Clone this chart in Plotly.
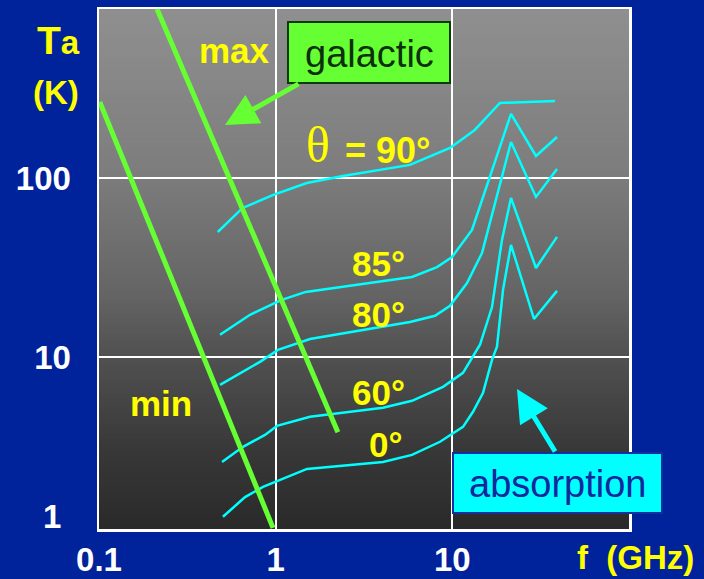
import plotly.graph_objects as go
import numpy as np

# ---------------- data ----------------
x_tick_vals = [0.1, 1, 10]
x_tick_text = ["0.1", "1", "10"]
y_tick_vals = [10, 100]
y_tick_text = ["10", "100"]
y_bottom_label = "1"

# galactic noise limits (GHz, K)
gal_max_f = [0.213, 2.25]
gal_max_T = [879, 3.8]
gal_min_f = [0.101, 0.966]
gal_min_T = [266, 1.11]

# antenna temperature vs elevation angle
f_90 = [0.47, 0.65, 0.97, 1.50, 2.4, 5.76, 9.7, 13.4, 18.6, 27.5, 38.1]
T_90 = [49.9, 68.0, 80.4, 93.8, 102.6, 118.3, 147.2, 185.5, 262.4, 265.9, 269.3]

f_85 = [0.484, 0.716, 1.072, 1.48, 5.91, 8.19, 9.96, 12.92, 21.48, 29.75, 39.13]
T_85 = [13.3, 17.2, 20.8, 23.1, 28.0, 31.8, 36.2, 51.3, 227.9, 132.7, 169.5]

f_80 = [0.484, 0.815, 1.031, 1.564, 5.76, 7.98, 9.70, 12.11, 14.72, 21.48, 29.75, 39.13]
T_80 = [6.98, 9.39, 10.95, 12.6, 15.7, 17.0, 19.3, 25.9, 38.1, 158.9, 78.4, 112.3]

f_60 = [0.497, 0.653, 0.870, 1.017, 1.564, 4.05, 5.91, 8.86, 11.49, 14.34, 16.77, 19.10, 21.48, 29.75, 39.13]
T_60 = [2.59, 3.15, 3.67, 4.12, 4.63, 5.20, 5.69, 6.81, 8.15, 11.7, 19.0, 45.1, 77.4, 31.4, 46.9]

f_0 = [0.503, 0.671, 0.848, 1.058, 1.504, 4.05, 5.91, 8.52, 11.49, 13.09, 14.92, 16.77, 17.89, 19.36, 21.48, 29.0, 39.13]
T_0 = [1.28, 1.65, 1.88, 2.06, 2.37, 2.59, 2.84, 3.36, 4.07, 4.94, 6.30, 9.63, 11.4, 23.7, 42.3, 16.3, 23.4]

# ---------------- layout helpers ----------------
W, H = 704, 579
L, R, T, B = 99, 629, 9, 529


def px(x):
    return (x - L) / (R - L)


def py(y):
    return (B - y) / (B - T)


BLUE = "#00229a"
GREEN = "#66ff33"
CYAN = "#00ffff"
YELLOW = "#ffff00"
FONT = "Liberation Sans, Arial, sans-serif"

fig = go.Figure()

for f, Tv in [(f_90, T_90), (f_85, T_85), (f_80, T_80), (f_60, T_60), (f_0, T_0)]:
    fig.add_trace(go.Scatter(x=f, y=Tv, mode="lines",
                             line=dict(color=CYAN, width=2.5), hoverinfo="skip"))

for f, Tv in [(gal_max_f, gal_max_T), (gal_min_f, gal_min_T)]:
    fig.add_trace(go.Scatter(x=f, y=Tv, mode="lines",
                             line=dict(color=GREEN, width=5), hoverinfo="skip"))

# gradient background of plot area
stops = [(0.0, 143), (0.3, 126), (0.55, 100), (0.66, 82), (0.85, 56), (1.0, 42)]
shapes = []
N = 104
for i in range(N):
    t = (i + 0.5) / N
    g = int(round(np.interp(t, [s[0] for s in stops], [s[1] for s in stops])))
    shapes.append(dict(type="rect", xref="paper", yref="paper",
                       x0=0, x1=1, y0=1 - (i + 1) / N, y1=1 - i / N + 0.0005,
                       fillcolor=f"rgb({g},{g},{g})", line=dict(width=0), layer="below"))

# galactic box
shapes.append(dict(type="rect", xref="paper", yref="paper",
                   x0=px(288), x1=px(450), y0=py(83), y1=py(22),
                   fillcolor=GREEN, line=dict(color="#0b3a0b", width=2), layer="above"))
# absorption box
shapes.append(dict(type="rect", xref="paper", yref="paper",
                   x0=px(453), x1=px(662), y0=py(513), y1=py(453),
                   fillcolor=CYAN, line=dict(color="#1030a0", width=2), layer="above"))

ann = []


def label(text, x, y, size=35, color=YELLOW, family=FONT, bold=True, xanchor="center"):
    t = f"<b>{text}</b>" if bold else text
    ann.append(dict(text=t, x=px(x), y=py(y), xref="paper", yref="paper",
                    showarrow=False, xanchor=xanchor, yanchor="middle",
                    font=dict(size=size, color=color, family=family)))


label("T<span style='font-size:33px'>a</span>", 58, 40, size=39)
label("(K)", 56, 93, size=33)
label(y_bottom_label, 63, 516, size=33, color="white", xanchor="right")
label("f\u00a0\u00a0(GHz)", 635, 557, size=33)
label("max", 234, 50, size=35)
label("min", 161, 403, size=35)
label("galactic", 369, 54, size=38, color="#0b300b", bold=False)
label("absorption", 557, 484, size=38, color="#14289c", bold=False)
label("θ", 318, 145, size=50, family="Liberation Serif, Times New Roman, serif", bold=False)
label("= 90°", 387, 150, size=36)
label("85°", 378, 263, size=35)
label("80°", 378, 314, size=35)
label("60°", 378, 392, size=35)
label("0°", 385, 444, size=35)

# arrows
ann.append(dict(text="", x=px(225), y=py(125), xref="paper", yref="paper",
                ax=75, ay=-42, showarrow=True, arrowhead=2, arrowsize=1.3,
                arrowwidth=5, arrowcolor=GREEN))
ann.append(dict(text="", x=px(517), y=py(389), xref="paper", yref="paper",
                ax=39, ay=64, showarrow=True, arrowhead=2, arrowsize=1.3,
                arrowwidth=5, arrowcolor=CYAN))

fig.update_layout(
    width=W, height=H,
    margin=dict(l=L, r=W - R, t=T, b=H - B, pad=0, autoexpand=False),
    paper_bgcolor=BLUE, plot_bgcolor="#606060",
    showlegend=False, hovermode=False,
    shapes=shapes, annotations=ann,
    font=dict(family=FONT, color="white"),
)
fig.update_xaxes(type="log", range=[-1, 2], tickvals=x_tick_vals,
                 ticktext=[f"<b>{t}</b>" for t in x_tick_text],
                 tickfont=dict(size=33, color="white", family=FONT),
                 showgrid=True, gridcolor="white", gridwidth=2,
                 showline=True, mirror=True, linecolor="white", linewidth=2.5,
                 ticks="", ticklabelstandoff=0, zeroline=False, automargin=False)
fig.update_yaxes(type="log", range=[0.039, 2.944], tickvals=y_tick_vals,
                 ticktext=[f"<b>{t}</b>" for t in y_tick_text],
                 tickfont=dict(size=33, color="white", family=FONT),
                 showgrid=True, gridcolor="white", gridwidth=2,
                 showline=True, mirror=True, linecolor="white", linewidth=2.5,
                 ticks="", ticklabelstandoff=19, zeroline=False, automargin=False)

fig.write_html(
    "out.html",
    config={"displayModeBar": False, "staticPlot": True},
    post_script="document.body.style.margin='0';document.body.style.overflow='hidden';"
                "document.documentElement.style.background='" + BLUE + "';",
)
